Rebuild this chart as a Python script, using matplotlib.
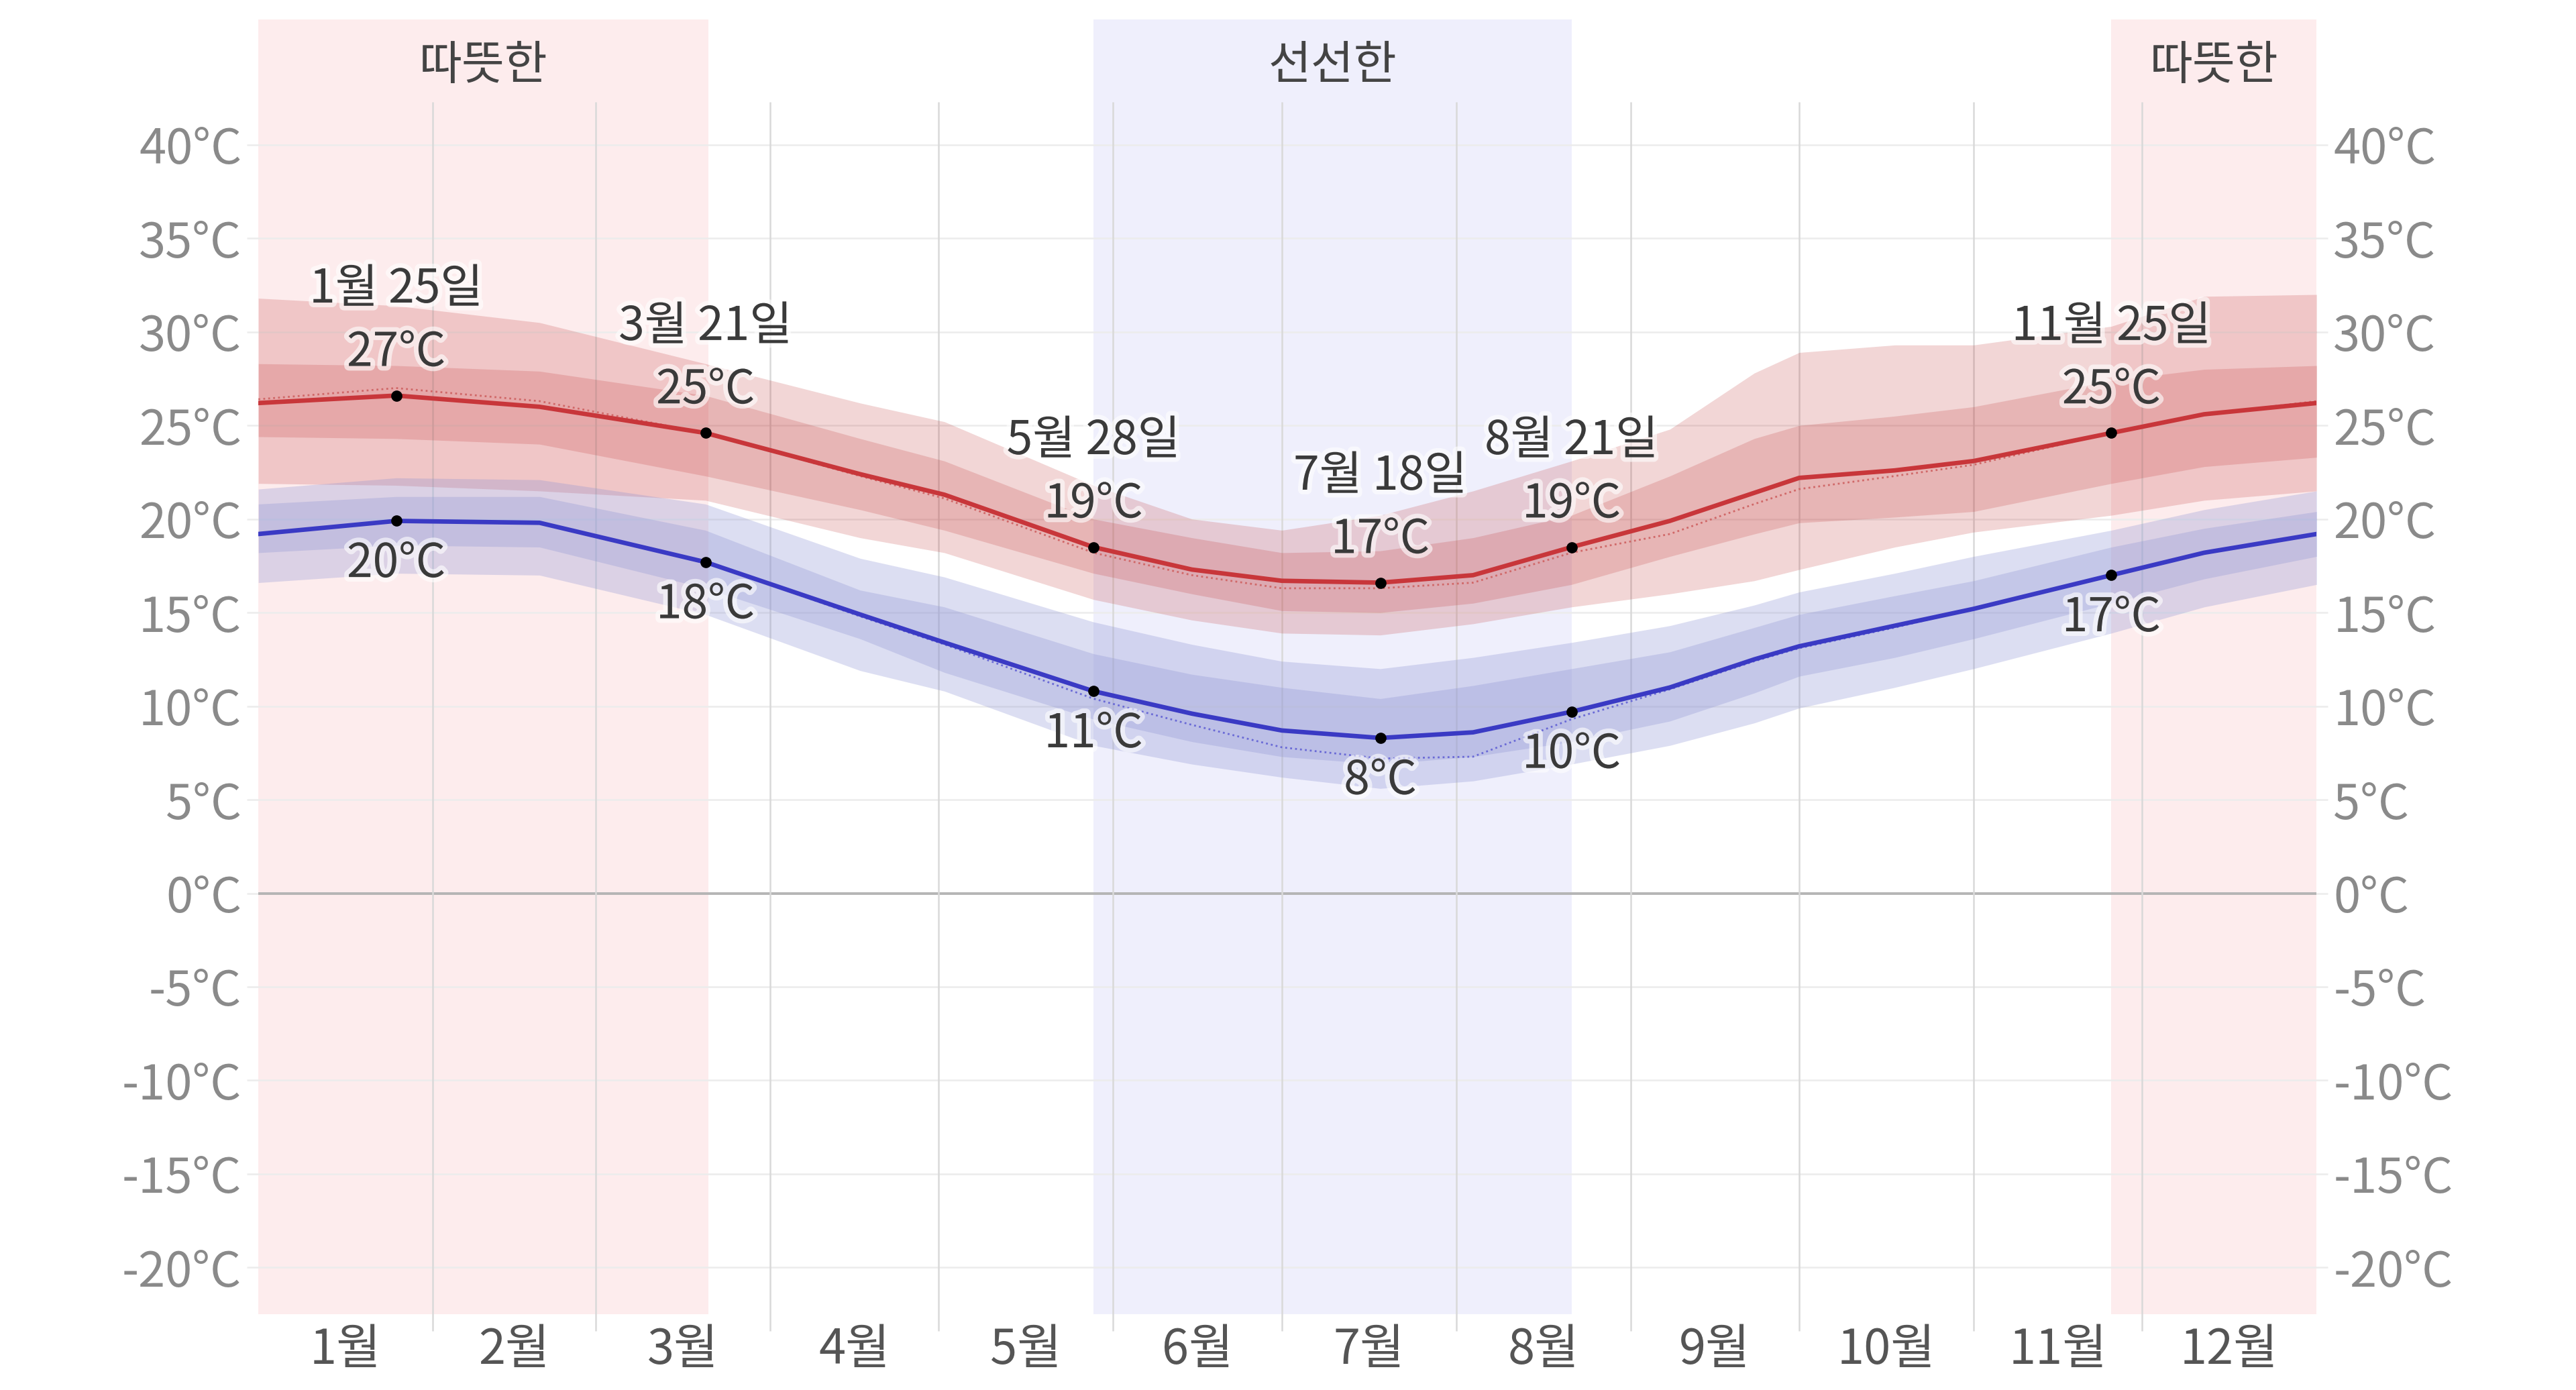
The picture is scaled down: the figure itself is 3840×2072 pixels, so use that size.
import matplotlib.pyplot as plt
import matplotlib.patheffects as pe

plt.rcParams['font.family'] = ['Noto Sans CJK KR', 'DejaVu Sans']

# day of year (leap year, 0 = 1월 1일 00시)
days = [0, 24.5, 50, 79.5, 107, 122, 148.5, 166, 182, 199.5, 216, 233.5, 251, 266, 274, 291, 305, 329.5, 346, 366]

# daily high temperature: mean, 25-75 and 10-90 percentile bands
high_mean = [26.2, 26.6, 26.0, 24.6, 22.4, 21.3, 18.5, 17.3, 16.7, 16.6, 17.0, 18.5, 19.9, 21.4, 22.2, 22.6, 23.1, 24.6, 25.6, 26.2]
high_p75 = [28.3, 28.2, 27.9, 26.6, 24.3, 23.1, 20.0, 19.0, 18.2, 18.3, 19.0, 20.2, 22.3, 24.3, 25.0, 25.5, 26.0, 27.4, 28.0, 28.2]
high_p25 = [24.4, 24.3, 24.0, 22.3, 20.5, 19.4, 17.1, 16.0, 15.1, 15.0, 15.5, 16.5, 18.0, 19.2, 19.8, 20.1, 20.4, 21.9, 22.8, 23.3]
high_p90 = [31.8, 31.4, 30.5, 28.3, 26.2, 25.2, 21.8, 20.0, 19.4, 20.2, 21.5, 23.1, 24.8, 27.8, 28.9, 29.3, 29.3, 30.3, 31.9, 32.0]
high_p10 = [21.9, 21.8, 21.5, 21.0, 19.0, 18.2, 15.7, 14.6, 13.9, 13.8, 14.4, 15.3, 16.0, 16.7, 17.3, 18.5, 19.3, 20.2, 21.0, 21.5]
high_feel = [26.4, 27.0, 26.3, 24.6, 22.3, 21.1, 18.2, 17.0, 16.3, 16.3, 16.6, 18.2, 19.2, 20.8, 21.6, 22.3, 22.9, 24.6, 25.6, 26.3]

# daily low temperature
low_mean = [19.2, 19.9, 19.8, 17.7, 14.9, 13.4, 10.8, 9.6, 8.7, 8.3, 8.6, 9.7, 11.0, 12.5, 13.2, 14.3, 15.2, 17.0, 18.2, 19.2]
low_p75 = [20.8, 21.2, 21.2, 19.4, 16.2, 15.3, 12.8, 11.7, 11.0, 10.4, 11.1, 12.0, 12.9, 14.2, 14.9, 15.9, 16.7, 18.5, 19.5, 20.4]
low_p25 = [18.2, 18.6, 18.5, 16.3, 13.6, 11.8, 9.3, 8.1, 7.3, 6.9, 7.3, 8.1, 9.2, 10.7, 11.6, 12.6, 13.6, 15.5, 16.8, 18.0]
low_p90 = [21.6, 22.2, 22.1, 20.8, 17.9, 16.9, 14.5, 13.3, 12.4, 12.0, 12.6, 13.4, 14.3, 15.4, 16.1, 17.1, 18.0, 19.4, 20.5, 21.5]
low_p10 = [16.6, 17.1, 17.0, 14.9, 11.9, 10.8, 7.9, 6.9, 6.2, 5.6, 6.0, 6.9, 7.9, 9.1, 9.9, 11.0, 12.0, 13.9, 15.3, 16.5]
low_feel = [19.2, 19.9, 19.8, 17.7, 14.8, 13.3, 10.4, 9.0, 7.8, 7.2, 7.3, 9.3, 10.9, 12.4, 13.1, 14.2, 15.2, 17.0, 18.2, 19.2]

# highlighted days
mark_days = [24.5, 79.5, 148.5, 199.5, 233.5, 329.5]
mark_dates = ['1월 25일', '3월 21일', '5월 28일', '7월 18일', '8월 21일', '11월 25일']
mark_high = [27, 25, 19, 17, 19, 25]
mark_low = [20, 18, 11, 8, 10, 17]

# seasons
season_names = ['따뜻한', '선선한', '따뜻한']
season_start = [0, 148.5, 329.5]
season_end = [80, 233.5, 366]
season_colors = ['#fdeced', '#efeffc', '#fdeced']

months = ['1월', '2월', '3월', '4월', '5월', '6월', '7월', '8월', '9월', '10월', '11월', '12월']
month_edges = [0, 31, 60, 91, 121, 152, 182, 213, 244, 274, 305, 335, 366]
yticks = list(range(-20, 45, 5))

fig = plt.figure(figsize=(19.2, 10.36), dpi=200)
ax = fig.add_axes([0.1003, 0.0545, 0.799, 0.9315])
ax.set_xlim(0, 366)
ax.set_ylim(-22.5, 46.7)

for s, e, c, name in zip(season_start, season_end, season_colors, season_names):
    ax.axvspan(s, e, color=c, lw=0, zorder=0)
    ax.text((s + e) / 2, 44.2, name, ha='center', va='center', fontsize=25, color='#444444', zorder=5)

# grid
ax.hlines(yticks, -2, 368, color='#ececec', lw=0.9, zorder=1, clip_on=False)
ax.axhline(0, color='#b5b5b5', lw=1.4, zorder=1)
ax.vlines(month_edges[1:-1], -23.4, 42.3, color='#d9d9d9', lw=0.9, zorder=1, clip_on=False)

# bands
red = (190 / 255, 50 / 255, 50 / 255)
blue = (142 / 255, 148 / 255, 212 / 255)
ax.fill_between(days, high_p10, high_p90, color=red, alpha=0.2, lw=0, zorder=2)
ax.fill_between(days, high_p25, high_p75, color=red, alpha=0.2, lw=0, zorder=2)
ax.fill_between(days, low_p10, low_p90, color=blue, alpha=0.3, lw=0, zorder=2)
ax.fill_between(days, low_p25, low_p75, color=blue, alpha=0.3, lw=0, zorder=2)

ax.plot(days, high_feel, color='#d06868', lw=1.0, ls=':', zorder=3)
ax.plot(days, low_feel, color='#6a6ad6', lw=1.0, ls=':', zorder=3)
ax.plot(days, high_mean, color='#c8363a', lw=2.4, zorder=3)
ax.plot(days, low_mean, color='#3a3ac4', lw=2.4, zorder=3)

halo = [pe.withStroke(linewidth=5, foreground='white', alpha=0.6)]
for d, lbl, th, tl in zip(mark_days, mark_dates, mark_high, mark_low):
    i = days.index(d)
    ax.plot(d, high_mean[i], 'o', color='black', ms=5, zorder=4)
    ax.plot(d, low_mean[i], 'o', color='black', ms=5, zorder=4)
    ax.annotate(f'{th}°C', (d, high_mean[i]), xytext=(0, 23), textcoords='offset points',
                ha='center', va='center', fontsize=25, color='#3a3a3a', zorder=5, path_effects=halo)
    ax.annotate(lbl, (d, high_mean[i]), xytext=(0, 57), textcoords='offset points',
                ha='center', va='center', fontsize=25, color='#3a3a3a', zorder=5, path_effects=halo)
    ax.annotate(f'{tl}°C', (d, low_mean[i]), xytext=(0, -23), textcoords='offset points',
                ha='center', va='center', fontsize=25, color='#3a3a3a', zorder=5, path_effects=halo)

# axes labels
ax.set_yticks(yticks)
ax.set_yticklabels([f'{v}°C' for v in yticks])
ax.set_xticks([(month_edges[i] + month_edges[i + 1]) / 2 for i in range(12)])
ax.set_xticklabels(months)
ax.tick_params(axis='y', length=0, labelsize=26, labelcolor='#8a8a8a', labelright=True, pad=9)
ax.tick_params(axis='x', length=0, labelsize=26, labelcolor='#555555', pad=6)
for sp in ax.spines.values():
    sp.set_visible(False)

fig.savefig('out.png', dpi=200, facecolor='white')
